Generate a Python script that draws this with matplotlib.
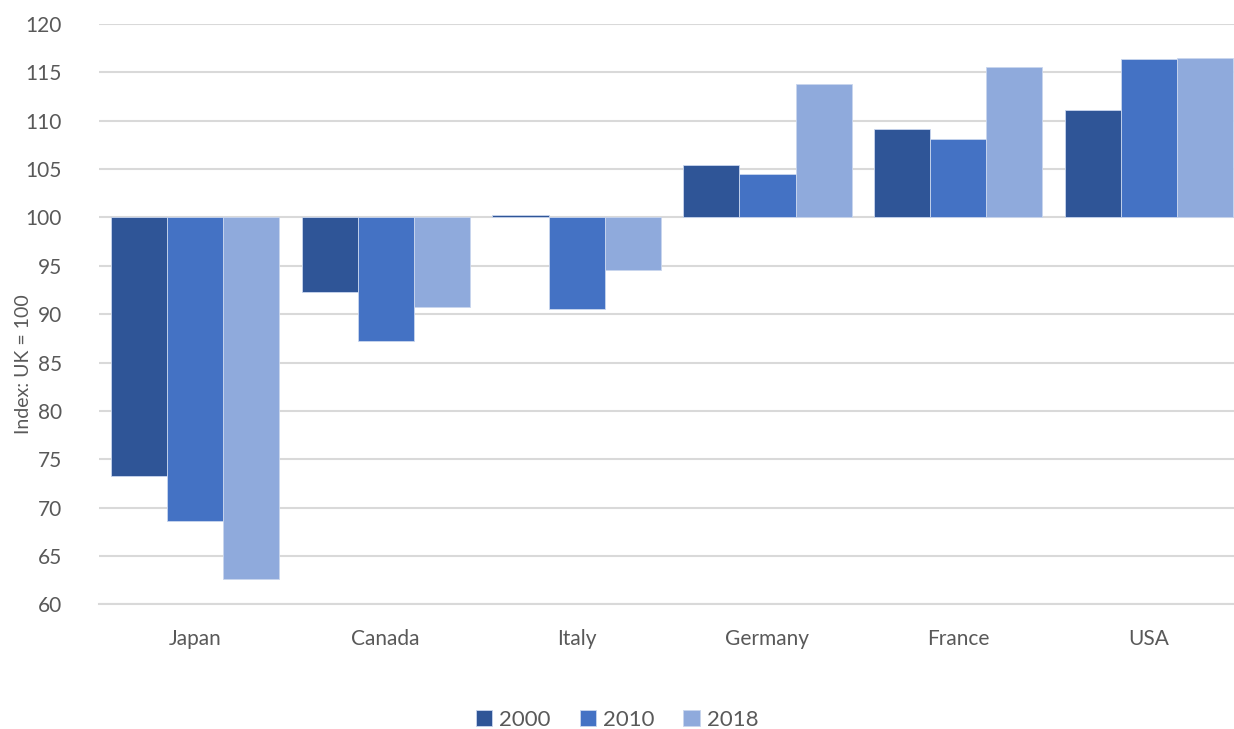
import numpy as np
import matplotlib.pyplot as plt

countries = ['Japan', 'Canada', 'Italy', 'Germany', 'France', 'USA']
years = ['2000', '2010', '2018']
v2000 = [73.3, 92.3, 100.3, 105.4, 109.2, 111.1]
v2010 = [68.6, 87.2, 90.5, 104.5, 108.1, 116.4]
v2018 = [62.6, 90.7, 94.6, 113.8, 115.6, 116.45]
colors = ['#2F5597', '#4472C4', '#8FAADC']

plt.rcParams['font.family'] = ['Lato', 'DejaVu Sans']

fig = plt.figure(figsize=(12.34, 7.29), dpi=100)
ax = fig.add_axes([0.0806, 0.171, 0.928, 0.796])

x = np.arange(len(countries))
w = 0.294
for i, (vals, col, yr) in enumerate(zip([v2000, v2010, v2018], colors, years)):
    vals = np.array(vals)
    ax.bar(x + (i - 1) * w, vals - 100, bottom=100, width=w, color=col,
           edgecolor='#C9D6EE', linewidth=0.6, label=yr, zorder=3)

ax.set_xlim(-0.5, len(countries) - 0.5)
ax.set_ylim(60, 120)
ax.set_yticks(np.arange(60, 121, 5))
ax.set_xticks(x)
ax.set_xticklabels(countries)
ax.grid(axis='y', color='#D9D9D9', linewidth=1.5, zorder=0)
for s in ['top', 'right', 'left']:
    ax.spines[s].set_visible(False)
ax.spines['bottom'].set_color('#D9D9D9')
ax.spines['bottom'].set_linewidth(1.5)
ax.tick_params(axis='both', length=0, labelsize=15, colors='#595959')
ax.tick_params(axis='x', pad=18)
ax.tick_params(axis='y', pad=27)
ax.set_ylabel('Index: UK = 100', fontsize=14, color='#595959')
ax.yaxis.set_label_coords(-0.0585, 0.414)

leg = fig.legend(loc='center', bbox_to_anchor=(0.5, 0.0123), ncol=3, frameon=False,
                 fontsize=16, handlelength=0.75, handleheight=0.75, handletextpad=0.3,
                 columnspacing=1.3)
for t in leg.get_texts():
    t.set_color('#595959')

fig.savefig('out.png', dpi=100)
